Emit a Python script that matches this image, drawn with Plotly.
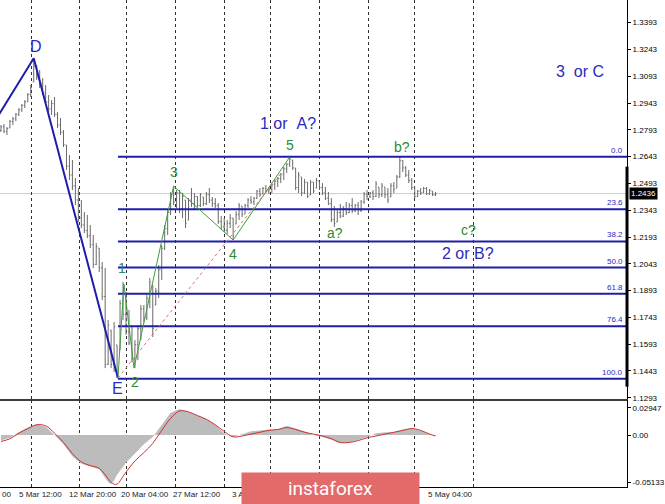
"""
GBP/USD H4 wave count with Fibonacci grid and MACD panel.
"""

import plotly.graph_objects as go

# H4 bars
bar_open = [
    1.2790, 1.2810, 1.2785, 1.2803, 1.2840, 1.2855, 1.2880, 1.2905, 1.2930, 1.2950,
    1.2990, 1.3061, 1.3150, 1.3090, 1.3050, 1.3000, 1.2950, 1.2910, 1.2940, 1.2880,
    1.2820, 1.2780, 1.2708, 1.2590, 1.2540, 1.2480, 1.2400, 1.2300, 1.2260, 1.2230,
    1.2200, 1.2150, 1.2040, 1.2131, 1.2020, 1.1860, 1.1480, 1.1672, 1.1480, 1.1588,
    1.1560, 1.1820, 1.1760, 1.1660, 1.1600, 1.1510, 1.1590, 1.1680, 1.1790, 1.1740,
    1.1850, 1.1924, 1.1812, 1.1890, 1.2010, 1.2130, 1.2240, 1.2330, 1.2430, 1.2390,
    1.2440, 1.2350, 1.2400, 1.2288, 1.2400, 1.2380, 1.2420, 1.2370, 1.2417, 1.2380,
    1.2430, 1.2400, 1.2380, 1.2370, 1.2280, 1.2250, 1.2230, 1.2270, 1.2299, 1.2266,
    1.2320, 1.2366, 1.2322, 1.2370, 1.2400, 1.2390, 1.2410, 1.2450, 1.2434, 1.2465,
    1.2450, 1.2460, 1.2485, 1.2505, 1.2520, 1.2545, 1.2575, 1.2600, 1.2624, 1.2579,
    1.2470, 1.2529, 1.2440, 1.2500, 1.2428, 1.2500, 1.2467, 1.2506, 1.2470, 1.2440,
    1.2410, 1.2380, 1.2290, 1.2277, 1.2330, 1.2310, 1.2350, 1.2330, 1.2370, 1.2340,
    1.2370, 1.2340, 1.2390, 1.2430, 1.2420, 1.2440, 1.2420, 1.2473, 1.2430, 1.2473,
    1.2430, 1.2417, 1.2480, 1.2467, 1.2530, 1.2620, 1.2580, 1.2540, 1.2510, 1.2470,
    1.2420, 1.2450, 1.2440, 1.2465, 1.2435, 1.2450, 1.2430,
]
bar_high = [
    1.2820, 1.2826, 1.2809, 1.2848, 1.2865, 1.2887, 1.2915, 1.2938, 1.2960, 1.2999,
    1.3044, 1.3184, 1.3156, 1.3128, 1.3083, 1.3044, 1.2988, 1.2960, 1.2977, 1.2893,
    1.2859, 1.2792, 1.2708, 1.2652, 1.2624, 1.2523, 1.2467, 1.2400, 1.2333, 1.2316,
    1.2260, 1.2204, 1.2159, 1.2131, 1.2053, 1.2019, 1.1728, 1.1672, 1.1717, 1.1588,
    1.1840, 1.1941, 1.1885, 1.1784, 1.1700, 1.1616, 1.1700, 1.1812, 1.1812, 1.1868,
    1.1963, 1.1924, 1.1907, 1.2036, 1.2148, 1.2260, 1.2344, 1.2445, 1.2478, 1.2456,
    1.2456, 1.2439, 1.2400, 1.2411, 1.2467, 1.2439, 1.2422, 1.2439, 1.2417, 1.2445,
    1.2467, 1.2417, 1.2411, 1.2383, 1.2310, 1.2299, 1.2288, 1.2322, 1.2299, 1.2338,
    1.2383, 1.2366, 1.2378, 1.2411, 1.2422, 1.2417, 1.2456, 1.2467, 1.2473, 1.2484,
    1.2473, 1.2490, 1.2512, 1.2529, 1.2551, 1.2585, 1.2607, 1.2641, 1.2624, 1.2579,
    1.2557, 1.2529, 1.2518, 1.2501, 1.2512, 1.2501, 1.2523, 1.2506, 1.2495, 1.2473,
    1.2445, 1.2411, 1.2366, 1.2350, 1.2378, 1.2366, 1.2389, 1.2383, 1.2411, 1.2378,
    1.2389, 1.2400, 1.2445, 1.2456, 1.2445, 1.2456, 1.2506, 1.2473, 1.2495, 1.2473,
    1.2467, 1.2495, 1.2501, 1.2540, 1.2641, 1.2624, 1.2590, 1.2568, 1.2523, 1.2478,
    1.2456, 1.2467, 1.2473, 1.2473, 1.2462, 1.2450, 1.2445,
]
bar_low = [
    1.2781, 1.2775, 1.2764, 1.2803, 1.2820, 1.2842, 1.2870, 1.2893, 1.2915, 1.2949,
    1.2977, 1.3061, 1.3072, 1.3027, 1.2988, 1.2932, 1.2893, 1.2876, 1.2865, 1.2803,
    1.2764, 1.2697, 1.2568, 1.2512, 1.2456, 1.2372, 1.2277, 1.2243, 1.2215, 1.2187,
    1.2131, 1.2019, 1.2036, 1.1997, 1.1840, 1.1459, 1.1476, 1.1459, 1.1437, 1.1403,
    1.1560, 1.1728, 1.1644, 1.1588, 1.1493, 1.1459, 1.1504, 1.1616, 1.1717, 1.1728,
    1.1795, 1.1633, 1.1812, 1.1851, 1.1952, 1.2120, 1.2204, 1.2316, 1.2372, 1.2355,
    1.2327, 1.2299, 1.2243, 1.2288, 1.2361, 1.2344, 1.2361, 1.2361, 1.2366, 1.2372,
    1.2383, 1.2361, 1.2355, 1.2266, 1.2232, 1.2221, 1.2210, 1.2243, 1.2176, 1.2266,
    1.2288, 1.2305, 1.2322, 1.2355, 1.2378, 1.2372, 1.2406, 1.2417, 1.2434, 1.2439,
    1.2434, 1.2439, 1.2456, 1.2473, 1.2495, 1.2512, 1.2551, 1.2585, 1.2568, 1.2456,
    1.2439, 1.2422, 1.2434, 1.2411, 1.2428, 1.2439, 1.2467, 1.2456, 1.2428, 1.2400,
    1.2372, 1.2277, 1.2249, 1.2277, 1.2299, 1.2305, 1.2316, 1.2327, 1.2327, 1.2333,
    1.2316, 1.2333, 1.2378, 1.2400, 1.2411, 1.2400, 1.2417, 1.2411, 1.2417, 1.2411,
    1.2383, 1.2417, 1.2439, 1.2467, 1.2523, 1.2557, 1.2529, 1.2495, 1.2456, 1.2411,
    1.2417, 1.2428, 1.2439, 1.2428, 1.2428, 1.2422, 1.2422,
]
bar_close = [
    1.2810, 1.2785, 1.2800, 1.2840, 1.2855, 1.2880, 1.2905, 1.2930, 1.2950, 1.2990,
    1.3030, 1.3150, 1.3090, 1.3050, 1.3000, 1.2950, 1.2910, 1.2940, 1.2880, 1.2820,
    1.2780, 1.2710, 1.2590, 1.2540, 1.2480, 1.2400, 1.2300, 1.2260, 1.2230, 1.2200,
    1.2150, 1.2040, 1.2140, 1.2020, 1.1860, 1.1480, 1.1700, 1.1480, 1.1690, 1.1420,
    1.1820, 1.1760, 1.1660, 1.1600, 1.1510, 1.1590, 1.1680, 1.1790, 1.1740, 1.1850,
    1.1940, 1.1680, 1.1890, 1.2010, 1.2130, 1.2240, 1.2330, 1.2430, 1.2390, 1.2440,
    1.2350, 1.2420, 1.2270, 1.2400, 1.2380, 1.2420, 1.2370, 1.2430, 1.2380, 1.2430,
    1.2400, 1.2380, 1.2370, 1.2280, 1.2250, 1.2230, 1.2270, 1.2300, 1.2200, 1.2320,
    1.2370, 1.2320, 1.2370, 1.2400, 1.2390, 1.2410, 1.2450, 1.2430, 1.2465, 1.2450,
    1.2460, 1.2485, 1.2505, 1.2520, 1.2545, 1.2575, 1.2600, 1.2630, 1.2580, 1.2470,
    1.2540, 1.2440, 1.2500, 1.2420, 1.2500, 1.2450, 1.2510, 1.2470, 1.2440, 1.2410,
    1.2380, 1.2290, 1.2270, 1.2330, 1.2310, 1.2350, 1.2330, 1.2370, 1.2340, 1.2370,
    1.2340, 1.2390, 1.2430, 1.2420, 1.2440, 1.2420, 1.2490, 1.2430, 1.2480, 1.2430,
    1.2400, 1.2480, 1.2460, 1.2530, 1.2620, 1.2580, 1.2540, 1.2510, 1.2470, 1.2420,
    1.2450, 1.2440, 1.2465, 1.2435, 1.2455, 1.2430, 1.2436,
]
bar_x = list(range(len(bar_close)))
last_price = 1.2436

# wave mark-up (bar index, price)
wave_dx_x = [-1, 11, 39.3]
wave_dx_y = [1.2870, 1.3194, 1.1403]
impulse_x = [39.3, 41.3, 44.7, 58, 78, 97]
impulse_y = [1.1403, 1.1930, 1.1459, 1.2478, 1.2176, 1.2641]
trend_x = [39.3, 94]
trend_y = [1.1403, 1.2548]

# Fibonacci grid drawn from E to wave 5
fib_start = 39.3
fib_names = ["0.0", "23.6", "38.2", "50.0", "61.8", "76.4", "100.0"]
fib_prices = [1.2643, 1.2348, 1.2168, 1.2022, 1.1875, 1.1693, 1.1400]

price_ticks = [1.3393, 1.3243, 1.3093, 1.2943, 1.2793, 1.2643, 1.2493, 1.2343,
               1.2193, 1.2043, 1.1893, 1.1743, 1.1593, 1.1443, 1.1293]

# MACD panel
macd_x = [0, 3, 6, 9, 12, 15, 18, 21, 24, 27, 30, 33, 36, 37, 38, 39,
          42, 45, 48, 51, 54, 57, 60, 63, 66, 69, 72, 75, 78, 81, 84, 87,
          90, 93, 96, 99, 102, 105, 108, 111, 114, 117, 120, 123, 126, 129,
          132, 135, 138, 141, 144, 146]
macd_hist = [-0.006, -0.003, 0.003, 0.008, 0.012, 0.009, 0.000, -0.010,
             -0.023, -0.031, -0.034, -0.037, -0.051, -0.053, -0.049, -0.043,
             -0.030, -0.020, -0.010, -0.002, 0.011, 0.024, 0.028, 0.025,
             0.021, 0.017, 0.011, 0.002, -0.002, 0.001, 0.004, 0.005,
             0.006, 0.006, 0.010, 0.007, 0.004, 0.000, -0.002, -0.005,
             -0.009, -0.008, -0.005, -0.002, 0.002, 0.003, 0.003, 0.006,
             0.007, 0.005, 0.001, -0.001]
macd_signal = [-0.007, -0.004, 0.002, 0.007, 0.011, 0.010, 0.002, -0.008,
               -0.020, -0.029, -0.033, -0.036, -0.047, -0.051, -0.053, -0.053,
               -0.040, -0.028, -0.019, -0.009, 0.005, 0.018, 0.026, 0.025,
               0.021, 0.017, 0.011, 0.004, -0.002, -0.001, 0.001, 0.003,
               0.005, 0.006, 0.008, 0.006, 0.003, 0.001, -0.001, -0.004,
               -0.008, -0.008, -0.006, -0.003, -0.001, 0.001, 0.003, 0.005,
               0.007, 0.005, 0.001, -0.001]
macd_ticks = [0.02947, 0.0, -0.05133]
macd_tick_text = ["0.02947", "0.00", "-0.05133"]

# time axis (the first label is cut by the left edge, only "00" shows)
grid_x = [10.33, 26.33, 42.33, 58.67, 75.0, 90.67, 107.0, 123.33, 139.0, 158.67]
time_labels = ["00", "5 Mar 12:00", "12 Mar 20:00", "20 Mar 04:00",
               "27 Mar 12:00", "3 Apr 20:00", "5 May 04:00"]
time_label_px = [0, 17, 68, 120, 172, 232, 429]

PLOT_W = 632
X_RANGE = [-1 / 3, 631 / 3]
BLUE = "#1e1eaa"
TEXT_BLUE = "#2a2ac0"
GREEN = "#2e8b2e"
FONT = "Liberation Sans"

fig = go.Figure()

# price bars
fig.add_trace(
    go.Ohlc(
        x=bar_x,
        open=bar_open,
        high=bar_high,
        low=bar_low,
        close=bar_close,
        increasing={"line": {"color": "#6a6a6a", "width": 1}},
        decreasing={"line": {"color": "#6a6a6a", "width": 1}},
        tickwidth=0.35,
        hoverinfo="skip",
        showlegend=False,
    )
)

# Fibonacci levels (one trace, gaps between levels)
fib_x, fib_y = [], []
for p in fib_prices:
    fib_x += [fib_start, X_RANGE[1] + 2, None]
    fib_y += [p, p, None]
fig.add_trace(
    go.Scatter(x=fib_x, y=fib_y, mode="lines",
               line={"color": BLUE, "width": 2}, showlegend=False,
               hoverinfo="skip")
)

# D-E leg
fig.add_trace(
    go.Scatter(x=wave_dx_x, y=wave_dx_y, mode="lines",
               line={"color": BLUE, "width": 2}, showlegend=False,
               hoverinfo="skip")
)

# impulse 1-5
fig.add_trace(
    go.Scatter(x=impulse_x, y=impulse_y, mode="lines",
               line={"color": "#3c9c3c", "width": 1}, showlegend=False,
               hoverinfo="skip")
)

# trend line from E
fig.add_trace(
    go.Scatter(x=trend_x, y=trend_y, mode="lines",
               line={"color": "#e07070", "width": 1, "dash": "3px,3px"},
               showlegend=False, hoverinfo="skip")
)

# MACD
fig.add_trace(
    go.Scatter(x=macd_x, y=macd_hist, mode="lines", fill="tozeroy",
               fillcolor="#bcbcbc", line={"width": 0, "color": "#bcbcbc"},
               xaxis="x2", yaxis="y2", showlegend=False, hoverinfo="skip")
)
fig.add_trace(
    go.Scatter(x=macd_x, y=macd_signal, mode="lines",
               line={"color": "#d03030", "width": 1, "shape": "spline"},
               xaxis="x2", yaxis="y2", showlegend=False, hoverinfo="skip")
)

shapes = [
    # current price line
    dict(type="line", xref="paper", x0=0, x1=1, yref="y",
         y0=last_price, y1=last_price,
         line={"color": "#cccccc", "width": 1}, layer="below"),
    # thick segment on the price scale
    dict(type="line", xref="paper", x0=1, x1=1, yref="y",
         y0=1.1355, y1=1.2587, line={"color": "black", "width": 3}),
]

annotations = []

# Fibonacci level captions
for name, p in zip(fib_names, fib_prices):
    annotations.append(
        dict(x=630 / PLOT_W, xref="paper", y=p, yref="y", text=name,
             showarrow=False, xanchor="right", yanchor="bottom",
             font={"family": FONT, "size": 8, "color": TEXT_BLUE})
    )

# wave labels
wave_labels = [
    ("D", 11.6, 1.3257, TEXT_BLUE, 16),
    ("E", 39.3, 1.1347, TEXT_BLUE, 16),
    ("1", 40.7, 1.2019, "#2a8a70", 14),
    ("2", 45.0, 1.1380, GREEN, 14),
    ("3", 58.0, 1.2557, GREEN, 14),
    ("4", 78.0, 1.2098, GREEN, 14),
    ("5", 97.0, 1.2708, GREEN, 14),
    ("a?", 112.3, 1.2215, GREEN, 14),
    ("b?", 134.7, 1.2697, GREEN, 14),
    ("c?", 157.0, 1.2232, GREEN, 14),
    ("1 or&nbsp;&nbsp;A?", 96.3, 1.2831, TEXT_BLUE, 16),
    ("2 or B?", 157.0, 1.2098, TEXT_BLUE, 16),
    ("3&nbsp;&nbsp;or C", 194.7, 1.3117, TEXT_BLUE, 16),
]
for text, x, y, color, size in wave_labels:
    annotations.append(
        dict(x=x, y=y, xref="x", yref="y", text=text, showarrow=False,
             font={"family": FONT, "size": size, "color": color})
    )

# last price tag
annotations.append(
    dict(x=1, xref="paper", xanchor="left", xshift=2, y=last_price,
         yref="y", text="1.2436", showarrow=False, bgcolor="black",
         borderpad=1, font={"family": FONT, "size": 8, "color": "white"})
)

# time labels
for text, px_ in zip(time_labels, time_label_px):
    annotations.append(
        dict(x=px_ / PLOT_W, xref="paper", xanchor="left", y=-0.0144,
             yref="paper", yanchor="middle", text=text, showarrow=False,
             font={"family": FONT, "size": 8, "color": "#202020"})
    )

# watermark banner
annotations.append(
    dict(x=333.5 / PLOT_W, xref="paper", y=-0.003, yref="paper",
         xanchor="center", yanchor="middle", width=177, height=31,
         bgcolor="#e36a6a", borderpad=0, text="instaforex",
         showarrow=False,
         font={"family": "Roboto", "size": 19, "color": "white"})
)

grid_style = dict(
    range=X_RANGE,
    tickvals=grid_x,
    showticklabels=False,
    ticks="",
    showgrid=True,
    gridcolor="#303030",
    gridwidth=1,
    griddash="dot",
    zeroline=False,
)

fig.update_layout(
    width=665,
    height=504,
    autosize=False,
    margin={"l": 0, "r": 33, "t": 0, "b": 17},
    paper_bgcolor="white",
    plot_bgcolor="white",
    showlegend=False,
    font={"family": FONT, "size": 8, "color": "black"},
    xaxis=dict(
        **grid_style,
        domain=[0, 1],
        anchor="y",
        rangeslider={"visible": False},
        showline=True,
        linecolor="#3c3c3c",
        linewidth=2,
    ),
    yaxis=dict(
        domain=[0.1807, 1],
        range=[1.1286, 1.3520],
        side="right",
        tickvals=price_ticks,
        tickformat=".4f",
        ticks="outside",
        ticklen=3,
        tickcolor="black",
        showline=True,
        linecolor="black",
        linewidth=1,
        showgrid=False,
        zeroline=False,
        tickfont={"family": FONT, "size": 8, "color": "black"},
    ),
    xaxis2=dict(
        **grid_style,
        domain=[0, 1],
        anchor="y2",
        matches="x",
        showline=True,
        linecolor="black",
        linewidth=1,
    ),
    yaxis2=dict(
        domain=[0, 0.1786],
        range=[-0.0561, 0.0378],
        side="right",
        tickvals=macd_ticks,
        ticktext=macd_tick_text,
        ticks="outside",
        ticklen=3,
        tickcolor="black",
        showline=True,
        linecolor="black",
        linewidth=1,
        showgrid=False,
        zeroline=False,
        tickfont={"family": FONT, "size": 8, "color": "black"},
    ),
    shapes=shapes,
    annotations=annotations,
)

# drop the browser's default page margin so the 665x504 figure fills the window
fig.write_html(
    "out.html",
    config={"displayModeBar": False},
    post_script="document.body.style.margin='0';"
    "document.body.style.overflow='hidden';",
)
